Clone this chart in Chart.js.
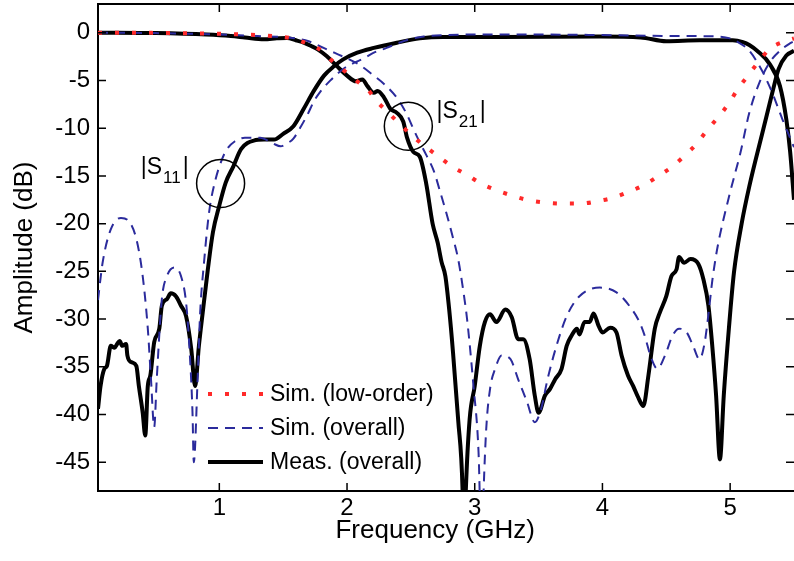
<!DOCTYPE html>
<html>
<head>
<meta charset="utf-8">
<script src="https://cdn.jsdelivr.net/npm/chart.js@4.4.1/dist/chart.umd.min.js"></script>
<style>
  html, body { margin: 0; padding: 0; background: #fff; }
</style>
</head>
<body>
<canvas id="myChart" width="794" height="561"></canvas>
<script>
// axis ticks
const freqTicks = [1, 2, 3, 4, 5];
const ampTicks = [0, -5, -10, -15, -20, -25, -30, -35, -40, -45];

const legendLabels = ['Sim. (low-order)', 'Sim. (overall)', 'Meas. (overall)'];

// |S21| low-order simulation (GHz, dB)
const lowS21Freq = [0.05, 0.3, 0.6, 0.9, 1.1, 1.3, 1.45, 1.55, 1.66, 1.78, 1.87, 1.97, 2.08, 2.16, 2.22, 2.31, 2.40, 2.51, 2.61, 2.71, 2.82, 2.94, 3.05, 3.17, 3.30, 3.42, 3.55, 3.69, 3.83, 3.96, 4.08, 4.20, 4.32, 4.44, 4.55, 4.65, 4.74, 4.82, 4.91, 4.99, 5.06, 5.14, 5.22, 5.31, 5.43, 5.5];
const lowS21Amp = [0, 0, -0.05, -0.1, -0.15, -0.25, -0.4, -0.55, -1.0, -1.7, -2.8, -3.9, -5.1, -5.9, -7.0, -8.2, -9.4, -10.8, -11.9, -12.9, -14.0, -14.9, -15.8, -16.5, -17.1, -17.55, -17.8, -17.9, -17.9, -17.65, -17.3, -16.7, -16.0, -15.0, -14.0, -12.8, -11.6, -10.2, -8.8, -7.4, -5.9, -4.5, -3.1, -1.7, -0.9, -0.6];

// |S21| overall simulation
const simS21Freq = [0.05, 0.5, 1.0, 1.3, 1.6, 1.7, 1.8, 1.9, 2.0, 2.1, 2.2, 2.3, 2.4, 2.47, 2.52, 2.57, 2.62, 2.68, 2.73, 2.78, 2.83, 2.87, 2.91, 2.94, 2.99, 3.03, 3.055, 3.07, 3.09, 3.12, 3.16, 3.21, 3.28, 3.34, 3.41, 3.47, 3.52, 3.57, 3.64, 3.72, 3.82, 3.98, 4.11, 4.21, 4.29, 4.33, 4.38, 4.43, 4.49, 4.55, 4.60, 4.66, 4.71, 4.76, 4.80, 4.83, 4.86, 4.89, 4.92, 5.0, 5.08, 5.15, 5.23, 5.31, 5.39, 5.46, 5.5];
const simS21Amp = [0, -0.05, -0.2, -0.35, -0.6, -0.9, -1.5, -2.1, -2.7, -3.4, -4.4, -5.5, -7.0, -8.6, -10.1, -11.5, -12.8, -14.5, -16.7, -19.0, -21.5, -23.7, -27.0, -30.0, -37.0, -44.0, -55, -47.8, -41.5, -37.3, -35.2, -33.8, -34.2, -36.3, -38.7, -40.8, -39.4, -36.3, -32.8, -29.7, -27.6, -26.7, -27.2, -28.6, -30.3, -31.7, -34.0, -35.2, -33.8, -31.7, -31.0, -31.4, -32.8, -34.2, -32.5, -29.5, -26.0, -23.3, -21.2, -16.7, -12.6, -8.4, -5.2, -3.1, -1.9, -1.2, -0.9];

// |S11| overall simulation
const simS11Freq = [0.05, 0.086, 0.15, 0.23, 0.28, 0.35, 0.40, 0.44, 0.465, 0.49, 0.51, 0.55, 0.59, 0.65, 0.70, 0.74, 0.765, 0.79, 0.80, 0.83, 0.85, 0.88, 0.92, 0.97, 1.02, 1.06, 1.12, 1.2, 1.32, 1.42, 1.48, 1.53, 1.58, 1.64, 1.69, 1.74, 1.79, 1.87, 1.97, 2.05, 2.13, 2.21, 2.31, 2.4, 2.49, 2.6, 2.78, 3.0, 3.5, 4.0, 4.5, 4.9, 5.0, 5.05, 5.15, 5.25, 5.33, 5.41, 5.5];
const simS11Amp = [-28.0, -24.1, -20.6, -19.4, -19.6, -21.6, -25.5, -31.0, -36.3, -41.3, -36.3, -27.9, -25.5, -24.6, -25.5, -28.3, -32.8, -39.8, -45.0, -36.3, -29.3, -24.1, -18.8, -15.4, -13.3, -12.2, -11.4, -11.0, -11.0, -11.6, -11.9, -11.6, -11.1, -9.8, -8.6, -7.2, -6.2, -5.0, -3.8, -3.2, -2.7, -2.1, -1.6, -1.1, -0.7, -0.4, -0.25, -0.2, -0.2, -0.25, -0.35, -0.4, -0.6, -0.9, -1.9, -4.0, -6.3, -9.1, -12.0];

// |S21| measurement
const measS21Freq = [0.05, 0.5, 0.9, 1.09, 1.2, 1.35, 1.45, 1.53, 1.6, 1.66, 1.72, 1.77, 1.84, 1.92, 2.0, 2.07, 2.12, 2.16, 2.21, 2.24, 2.29, 2.34, 2.39, 2.44, 2.47, 2.52, 2.57, 2.62, 2.67, 2.71, 2.74, 2.77, 2.80, 2.83, 2.87, 2.905, 2.915, 2.93, 2.96, 3.00, 3.04, 3.08, 3.12, 3.17, 3.24, 3.29, 3.34, 3.38, 3.43, 3.47, 3.50, 3.55, 3.59, 3.63, 3.68, 3.72, 3.76, 3.80, 3.82, 3.86, 3.90, 3.93, 3.97, 4.00, 4.06, 4.11, 4.15, 4.20, 4.24, 4.28, 4.32, 4.36, 4.41, 4.45, 4.50, 4.54, 4.58, 4.60, 4.64, 4.69, 4.75, 4.79, 4.83, 4.86, 4.89, 4.92, 4.95, 4.99, 5.03, 5.09, 5.15, 5.26, 5.33, 5.38, 5.44, 5.5];
const measS21Amp = [0, -0.05, -0.2, -0.35, -0.5, -0.7, -0.6, -0.55, -0.8, -1.05, -1.4, -1.75, -2.45, -3.5, -4.5, -5.1, -4.9, -5.6, -6.3, -6.1, -6.8, -8.0, -8.4, -9.3, -11.0, -12.5, -13.0, -15.8, -20.0, -22.0, -24.0, -25.5, -29.0, -33.5, -40.5, -48.0, -55, -48.0, -40.5, -37.0, -32.8, -30.3, -29.5, -30.3, -29.0, -29.8, -32.1, -32.1, -34.2, -38.0, -39.8, -38.0, -37.3, -36.3, -35.2, -32.8, -31.7, -31.0, -31.6, -30.3, -30.3, -29.4, -30.7, -31.4, -30.9, -31.4, -33.8, -35.9, -37.0, -38.2, -39.1, -35.9, -31.0, -29.3, -27.6, -25.5, -24.8, -23.5, -24.1, -23.7, -24.2, -25.8, -28.6, -32.8, -38.0, -44.7, -38.0, -31.0, -25.1, -20.0, -16.1, -10.1, -6.3, -3.8, -2.4, -1.9];

// |S11| measurement
const measS11Freq = [0.05, 0.07, 0.10, 0.12, 0.15, 0.18, 0.20, 0.22, 0.24, 0.27, 0.28, 0.31, 0.35, 0.37, 0.40, 0.42, 0.44, 0.46, 0.49, 0.53, 0.55, 0.59, 0.62, 0.66, 0.70, 0.74, 0.78, 0.81, 0.84, 0.87, 0.91, 0.95, 1.0, 1.05, 1.11, 1.17, 1.27, 1.35, 1.43, 1.50, 1.58, 1.66, 1.74, 1.82, 1.90, 1.97, 2.08, 2.21, 2.39, 2.57, 2.75, 3.2, 3.98, 4.3, 4.5, 4.76, 5.02, 5.1, 5.15, 5.22, 5.31, 5.39, 5.44, 5.47, 5.5];
const measS11Amp = [-39.4, -37.0, -35.2, -34.9, -32.8, -33.0, -32.6, -32.3, -32.8, -32.6, -33.8, -34.5, -34.9, -37.0, -39.8, -42.2, -37.0, -35.9, -32.4, -31.0, -28.6, -27.9, -27.3, -27.6, -28.6, -29.7, -33.1, -37.0, -32.8, -29.3, -24.8, -20.9, -18.1, -15.7, -14.0, -12.2, -11.3, -11.2, -11.2, -10.6, -9.8, -8.0, -6.1, -4.5, -3.5, -2.8, -2.1, -1.6, -1.05, -0.6, -0.45, -0.45, -0.4, -0.5, -0.9, -0.8, -0.8, -1.0, -1.3, -2.0, -3.3, -5.6, -9.1, -12.5, -17.5];

// annotation anchors (GHz, dB)
const s11Circle = { x: 1.01, y: -15.8 };
const s21Circle = { x: 2.48, y: -9.8 };
const s11Text = { x: 0.385, y: -14.8 };
const s21Text = { x: 2.70, y: -8.9 };

const FONT = "'Liberation Sans', Arial, Helvetica, sans-serif";
const RED = '#ff2a2a';
const BLUE = '#2b2b9c';

function toPoints(freqs, amps) {
    return freqs.map((f, i) => ({ x: f, y: amps[i] }));
}

function lineStyle(color, width, dash) {
    return {
        borderColor: color,
        backgroundColor: color,
        borderWidth: width,
        borderDash: dash,
        borderCapStyle: 'butt',
        borderJoinStyle: 'round',
        pointRadius: 0,
        fill: false,
        clip: 0,
        cubicInterpolationMode: 'monotone',
    };
}

function drawLabel(ctx, x, y, sub) {
    ctx.font = '23px ' + FONT;
    ctx.fillText('|S', x, y);
    let w = ctx.measureText('|S').width;
    ctx.font = '17px ' + FONT;
    ctx.fillText(sub, x + w + 1, y + 9);
    w += ctx.measureText(sub).width;
    ctx.font = '23px ' + FONT;
    ctx.fillText('|', x + w + 3, y);
}

// box, inward ticks, circles, labels and legend
const framePlugin = {
    id: 'frame',
    afterDatasetsDraw(chart) {
        const { ctx, chartArea: a, scales: { x, y } } = chart;
        ctx.save();
        ctx.strokeStyle = '#000';
        ctx.lineWidth = 2;
        ctx.beginPath();
        ctx.moveTo(a.left, a.top);
        ctx.lineTo(a.right, a.top);
        ctx.stroke();

        ctx.lineWidth = 1.5;
        ctx.beginPath();
        freqTicks.forEach(v => {
            const px = x.getPixelForValue(v);
            ctx.moveTo(px, a.bottom); ctx.lineTo(px, a.bottom - 8);
            ctx.moveTo(px, a.top); ctx.lineTo(px, a.top + 8);
        });
        ampTicks.forEach(v => {
            const py = y.getPixelForValue(v);
            ctx.moveTo(a.left, py); ctx.lineTo(a.left + 8, py);
            ctx.moveTo(a.right, py); ctx.lineTo(a.right - 8, py);
        });
        ctx.stroke();

        // circles
        ctx.lineWidth = 1.5;
        [s11Circle, s21Circle].forEach(c => {
            ctx.beginPath();
            ctx.arc(x.getPixelForValue(c.x), y.getPixelForValue(c.y), 24, 0, Math.PI * 2);
            ctx.stroke();
        });

        ctx.fillStyle = '#000';
        ctx.textBaseline = 'alphabetic';
        ctx.textAlign = 'left';
        drawLabel(ctx, x.getPixelForValue(s11Text.x), y.getPixelForValue(s11Text.y), '11');
        drawLabel(ctx, x.getPixelForValue(s21Text.x), y.getPixelForValue(s21Text.y), '21');

        // legend
        const styles = [
            { color: RED, width: 4, dash: [4, 13] },
            { color: BLUE, width: 2, dash: [10, 7] },
            { color: '#000', width: 4, dash: [] },
        ];
        const lx = a.left + 110;
        ctx.font = '23px ' + FONT;
        ctx.textBaseline = 'middle';
        for (let i = 0; i < legendLabels.length; i++) {
            const ly = a.top + 390 + i * 34;
            ctx.strokeStyle = styles[i].color;
            ctx.lineWidth = styles[i].width;
            ctx.setLineDash(styles[i].dash);
            ctx.lineCap = 'butt';
            ctx.beginPath();
            ctx.moveTo(lx, ly);
            ctx.lineTo(lx + 55, ly);
            ctx.stroke();
            ctx.setLineDash([]);
            ctx.fillText(legendLabels[i], lx + 62, ly + 1);
        }
        ctx.restore();
    }
};

function chart() {
    const data = {
        datasets: [
            { label: legendLabels[0], data: toPoints(lowS21Freq, lowS21Amp), ...lineStyle(RED, 4, [4, 13]) },
            { label: legendLabels[1], data: toPoints(simS21Freq, simS21Amp), ...lineStyle(BLUE, 2, [10, 7]) },
            { label: legendLabels[1], data: toPoints(simS11Freq, simS11Amp), ...lineStyle(BLUE, 2, [10, 7]) },
            { label: legendLabels[2], data: toPoints(measS21Freq, measS21Amp), ...lineStyle('#000', 4, []) },
            { label: legendLabels[2], data: toPoints(measS11Freq, measS11Amp), ...lineStyle('#000', 4, []) },
        ]
    };

    const tickFont = { family: FONT, size: 24 };
    const titleFont = { family: FONT, size: 26 };

    const config = {
        type: 'line',
        data: data,
        options: {
            responsive: false,
            animation: false,
            devicePixelRatio: 1,
            layout: { padding: { top: 4, right: 0, left: 0, bottom: 0 } },
            plugins: {
                legend: { display: false },
                tooltip: { enabled: false },
            },
            scales: {
                x: {
                    type: 'linear',
                    min: 0.05,
                    max: 5.5,
                    afterBuildTicks: s => { s.ticks = freqTicks.map(v => ({ value: v })); },
                    afterFit: s => { s.height = 70; s.paddingLeft = 0; s.paddingRight = 0; },
                    ticks: { font: tickFont, color: '#000', padding: 3, maxRotation: 0, autoSkip: false },
                    grid: { display: false, drawTicks: false },
                    border: { display: true, color: '#000', width: 2 },
                    // trailing spaces nudge the centred title a little to the left, as in the figure
                    title: { display: true, text: 'Frequency (GHz)\u00a0\u00a0\u00a0', font: titleFont, color: '#000', padding: { bottom: 15 } },
                },
                y: {
                    type: 'linear',
                    min: -48,
                    max: 3,
                    afterBuildTicks: s => { s.ticks = ampTicks.map(v => ({ value: v })); },
                    afterFit: s => { s.width = 98; s.paddingTop = 0; s.paddingBottom = 0; },
                    ticks: { font: tickFont, color: '#000', padding: 8, autoSkip: false },
                    grid: { display: false, drawTicks: false },
                    border: { display: true, color: '#000', width: 2 },
                    title: { display: true, text: 'Amplitude (dB)', font: titleFont, color: '#000', padding: { top: 9 } },
                }
            }
        },
        plugins: [framePlugin]
    };

    new Chart(
        document.getElementById('myChart'),
        config
    );
}

chart();
</script>
</body>
</html>
